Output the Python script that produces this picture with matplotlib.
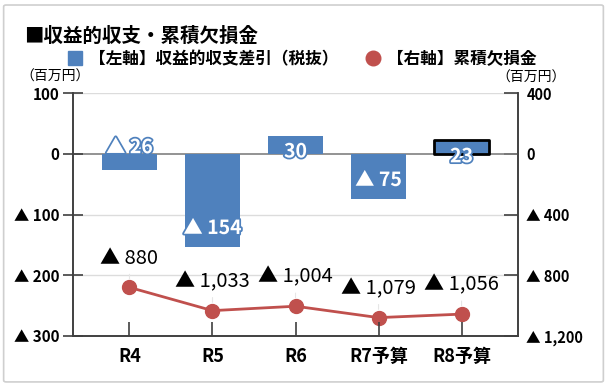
import matplotlib
matplotlib.use("Agg")
import matplotlib.pyplot as plt
import matplotlib.patheffects as pe
from matplotlib.lines import Line2D
from matplotlib.patches import FancyBboxPatch
from matplotlib.ticker import FixedLocator, FuncFormatter

plt.rcParams['font.family'] = ['Noto Sans CJK JP', 'DejaVu Sans']

categories = ["R4", "R5", "R6", "R7予算", "R8予算"]
balance = [-26, -154, 30, -75, 23]           # 収益的収支差引（税抜） left axis
deficit = [880, 1033, 1004, 1079, 1056]      # 累積欠損金 right axis (shown as ▲)
left_ticks = [100, 0, -100, -200, -300]
right_ticks = [400, 0, -400, -800, -1200]

title = "■収益的収支・累積欠損金"
legend_bar = "【左軸】収益的収支差引（税抜）"
legend_line = "【右軸】累積欠損金"
unit = "（百万円）"

BLUE = "#4F81BD"
RED = "#C0504D"
DARK = "#404040"

fig = plt.figure(figsize=(6.07, 3.85), dpi=100)
# outer frame
fig.patches.append(FancyBboxPatch((0.006, 0.008), 0.988, 0.979,
                                  boxstyle="round,pad=0,rounding_size=0.004",
                                  transform=fig.transFigure, fill=False,
                                  edgecolor="#cfcfcf", linewidth=1.2))

ax = fig.add_axes([0.1203, 0.1273, 0.7331, 0.6311])
ax2 = ax.twinx()
ax.set_zorder(ax2.get_zorder() + 1)
ax.patch.set_visible(False)

x = list(range(len(categories)))
ax.set_xlim(-0.68, 4.68)
ax.set_ylim(-300, 100)
ax2.set_ylim(-1200, 400)

# gridlines (drawn on the lower, right-hand axes so labels sit above them)
for t in right_ticks:
    if t not in (0, right_ticks[-1]):
        ax2.axhline(t, color="#dcdcdc", lw=1.0, zorder=0)
ax.axhline(0, color="#808080", lw=1.2, zorder=1)

bars = ax.bar(x, balance, width=0.66, color=BLUE, zorder=2)
bars[-1].set_edgecolor("black")
bars[-1].set_linewidth(2)
bars[-1].set_joinstyle("round")


def tri(v):
    return ("▲ " + f"{abs(v):,}") if v < 0 else f"{v:,}"


# bar labels
bar_label_y = [10, -123, 3, -44, -5]
for xi, v, ly in zip(x, balance, bar_label_y):
    ax.text(xi, ly, tri(v), ha="center", va="center", color="white",
            fontsize=14, fontweight="bold", zorder=5,
            path_effects=[pe.withStroke(linewidth=2.5, foreground=BLUE)])

# line on right axis
neg_def = [-d for d in deficit]
ax2.plot(x, neg_def, color=RED, lw=2, marker="o", markersize=10, zorder=3)
for xi, d in zip(x, neg_def):
    ax2.annotate(tri(d), (xi, d), xytext=(0, 21), textcoords="offset points",
                 ha="center", va="center", fontsize=14.5, color="black",
                 arrowprops=dict(arrowstyle="-", color="#e6e6e6", lw=0.8,
                                 shrinkA=2, shrinkB=6))

# axes styling
for a in (ax, ax2):
    a.spines["top"].set_visible(False)
    for s in ("left", "right", "bottom"):
        a.spines[s].set_color(DARK)
        a.spines[s].set_linewidth(1.2)

ax.yaxis.set_major_locator(FixedLocator(left_ticks))
ax.yaxis.set_major_formatter(FuncFormatter(lambda v, p: tri(int(v))))
ax2.yaxis.set_major_locator(FixedLocator(right_ticks))
ax2.yaxis.set_major_formatter(FuncFormatter(lambda v, p: tri(int(v))))

ax.tick_params(axis="y", direction="inout", length=14, width=1.2, color=DARK,
               labelsize=11, pad=3)
ax2.tick_params(axis="y", direction="in", length=10, width=1.2, color=DARK,
                labelsize=10.5, pad=6)
for lab in ax.get_yticklabels() + ax2.get_yticklabels():
    lab.set_fontweight("bold")

ax.set_xticks(x)
ax.set_xticklabels(categories, fontsize=13, fontweight="bold")
ax.tick_params(axis="x", direction="in", length=10, width=1.2, color=DARK, pad=8)

# titles & units
fig.text(0.040, 0.906, title, fontsize=14, fontweight="bold", ha="left", va="center")
fig.text(0.034, 0.800, unit, fontsize=10, ha="left", va="center")
fig.text(0.818, 0.797, unit, fontsize=10, ha="left", va="center")

handles = [Line2D([], [], ls="none", marker="s", markersize=10.5, color=BLUE),
           Line2D([], [], ls="none", marker="o", markersize=10.5, color=RED)]
leg = fig.legend(handles, [legend_bar, legend_line], ncol=2, frameon=False,
                 loc="center left", bbox_to_anchor=(0.098, 0.846),
                 prop=dict(size=12, weight="bold"), handletextpad=0.3,
                 columnspacing=1.5, handlelength=1.1, borderaxespad=0)

fig.savefig("out.png", dpi=100)
